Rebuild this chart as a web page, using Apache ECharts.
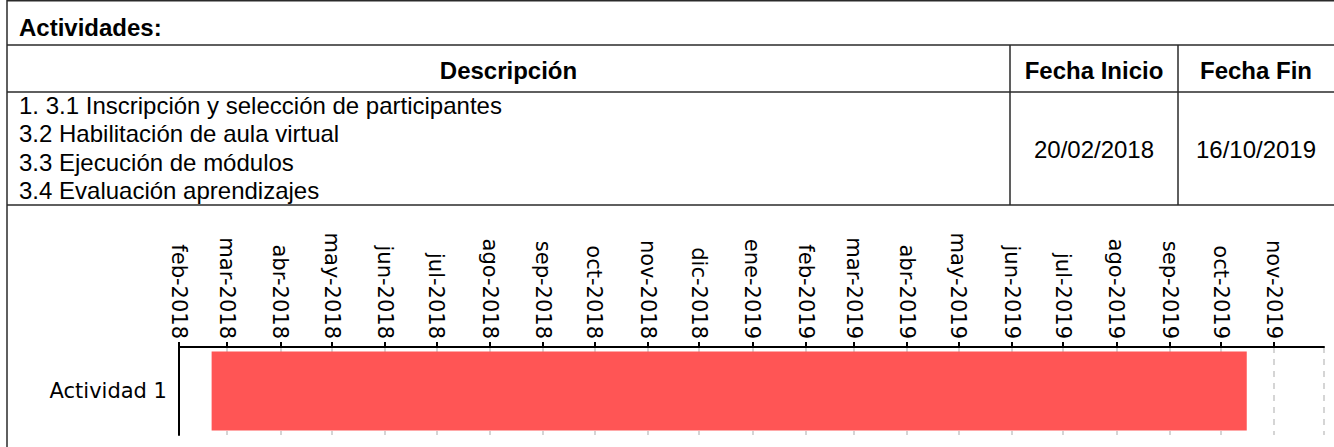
<!DOCTYPE html>
<html>
<head>
<meta charset="utf-8">
<script src="https://cdn.jsdelivr.net/npm/echarts@6/dist/echarts.min.js"></script>
<style>
html,body{margin:0;padding:0;background:#fff;}
#chart{width:1334px;height:447px;}
</style>
</head>
<body>
<div id="chart"></div>
<script>
// ---- data ----
const tableTitle = 'Actividades:';
const tableHeaders = ['Descripción', 'Fecha Inicio', 'Fecha Fin'];
const descriptionLines = [
  '1. 3.1 Inscripción y selección de participantes',
  '3.2 Habilitación de aula virtual',
  '3.3 Ejecución de módulos',
  '3.4 Evaluación aprendizajes'
];
const tableStart = '20/02/2018';
const tableEnd = '16/10/2019';

const categories = ['Actividad 1'];
const startDates = ['2018-02-20'];
const endDates = ['2019-10-16'];
const monthNames = ['ene','feb','mar','abr','may','jun','jul','ago','sep','oct','nov','dic'];
const axisStart = '2018-02-01';
const axisEnd = '2019-11-30';

function toTs(s){ const p = s.split('-').map(Number); return new Date(p[0], p[1]-1, p[2]).getTime(); }

const ganttData = categories.map((c, i) => [i, toTs(startDates[i]), toTs(endDates[i])]);

// ---- table graphics ----
const lineColor = '#2a2a2a';
const W = 1334;
const colX1 = 1010, colX2 = 1178;
const yTitleLine = 45, yHeadLine = 92, yRowLine = 205;
function hline(y, x1, x2){ return {type:'line', shape:{x1:x1, y1:y, x2:x2, y2:y}, style:{stroke:lineColor, lineWidth:1.5}, silent:true}; }
function vline(x, y1, y2){ return {type:'line', shape:{x1:x, y1:y1, x2:x, y2:y2}, style:{stroke:lineColor, lineWidth:1.5}, silent:true}; }
function txt(t, x, y, align, bold, size){
  return {type:'text', x:x, y:y, style:{text:t, fill:'#000', font:(bold?'bold ':'') + size + 'px "Liberation Sans", Arial, sans-serif', textAlign:align, textVerticalAlign:'middle'}, silent:true};
}
const graphics = [
  hline(0.75, 7, W),
  vline(7, 0, 447),
  hline(yTitleLine, 7, W),
  hline(yHeadLine, 7, W),
  hline(yRowLine, 7, W),
  vline(colX1, yTitleLine, yRowLine),
  vline(colX2, yTitleLine, yRowLine),
  txt(tableTitle, 19, 27, 'left', true, 24),
  txt(tableHeaders[0], (7 + colX1)/2, 70, 'center', true, 24),
  txt(tableHeaders[1], (colX1 + colX2)/2, 70, 'center', true, 24),
  txt(tableHeaders[2], (colX2 + W)/2, 70, 'center', true, 24),
  txt(tableStart, (colX1 + colX2)/2, 149, 'center', false, 24),
  txt(tableEnd, (colX2 + W)/2, 149, 'center', false, 24)
];
descriptionLines.forEach((l, i) => graphics.push(txt(l, 19, 105 + i*28.5, 'left', false, 24)));

const chart = echarts.init(document.getElementById('chart'), null, {renderer:'svg'});
chart.setOption({
  animation:false,
  backgroundColor:'#fff',
  graphic: graphics,
  grid:{left:179, right:10, top:347, bottom:12, containLabel:false},
  xAxis:{
    type:'time', position:'top',
    min: toTs(axisStart), max: toTs(axisEnd),
    splitNumber: 22,
    minInterval: 28*86400000, maxInterval: 31*86400000,
    axisLine:{show:true, lineStyle:{color:'#000', width:2}},
    axisTick:{show:true, length:5, lineStyle:{color:'#000', width:2}},
    axisLabel:{
      rotate:90, fontSize:21, fontFamily:'DejaVu Sans', color:'#000', margin:8, hideOverlap:false,
      formatter: function(v){ const d = new Date(v); return monthNames[d.getMonth()] + '-' + d.getFullYear(); }
    },
    splitLine:{show:true, lineStyle:{color:'#c8c8c8', type:[6,6], width:1.5}}
  },
  yAxis:{
    type:'category', data:categories,
    axisLine:{show:true, lineStyle:{color:'#000', width:2}},
    axisTick:{show:false},
    axisLabel:{fontSize:21, fontFamily:'DejaVu Sans', color:'#000', margin:12},
    splitLine:{show:false}
  },
  series:[{
    type:'custom',
    encode:{x:[1,2], y:0},
    data: ganttData,
    renderItem: function(params, api){
      const s = api.coord([api.value(1), api.value(0)]);
      const e = api.coord([api.value(2), api.value(0)]);
      const h = api.size([0, 1])[1] * 0.9;
      return {type:'rect', shape:{x:s[0], y:s[1]-h/2, width:e[0]-s[0], height:h}, style:{fill:'#ff5555'}};
    }
  }]
});
</script>
</body>
</html>
